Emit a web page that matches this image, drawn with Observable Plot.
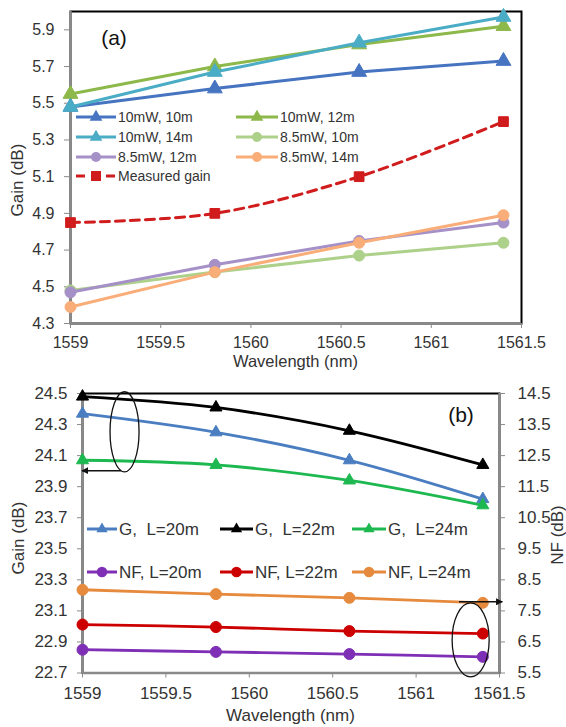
<!DOCTYPE html>
<html><head><meta charset="utf-8">
<script src="https://cdn.jsdelivr.net/npm/d3@7"></script>
<script src="https://cdn.jsdelivr.net/npm/@observablehq/plot@0.6"></script>
<style>
body{margin:0;background:#fff;}
#wrap{position:relative;width:566px;height:727px;background:#fff;font-family:"Liberation Sans",Arial,sans-serif;}
#wrap svg{position:absolute;left:0;overflow:visible;}
</style></head><body><div id="wrap"></div>
<script>
// ---------- shared ----------
const wavelengths = [1559, 1559.8, 1560.6, 1561.4];
const xTicks = [1559, 1559.5, 1560, 1560.5, 1561, 1561.5];

// ---------- panel (a) ----------
const seriesA = ["10mW, 10m", "10mW, 12m", "10mW, 14m", "8.5mW, 10m", "8.5mW, 12m", "8.5mW, 14m", "Measured gain"];
const gain10mW10m = [5.48, 5.58, 5.67, 5.73];
const gain10mW12m = [5.55, 5.70, 5.82, 5.92];
const gain10mW14m = [5.48, 5.67, 5.83, 5.97];
const gain85mW10m = [4.48, 4.58, 4.67, 4.74];
const gain85mW12m = [4.47, 4.62, 4.75, 4.85];
const gain85mW14m = [4.39, 4.58, 4.74, 4.89];
const measuredGain = [4.85, 4.90, 5.10, 5.40];
const valuesA = [gain10mW10m, gain10mW12m, gain10mW14m, gain85mW10m, gain85mW12m, gain85mW14m, measuredGain];
const colorsA = ["#4674C1", "#8DB84A", "#4BACC6", "#ADD18A", "#A590C8", "#F9AD78", "#D01C1C"];
const symbolsA = ["triangle", "triangle", "triangle", "circle", "circle", "circle", "square"];
const yTicksA = [4.3, 4.5, 4.7, 4.9, 5.1, 5.3, 5.5, 5.7, 5.9];
const yDomainA = [4.3, 6.0];

// ---------- panel (b) ----------
const seriesB = ["G,  L=20m", "G,  L=22m", "G,  L=24m", "NF, L=20m", "NF, L=22m", "NF, L=24m"];
const gainL20 = [24.37, 24.25, 24.07, 23.82];
const gainL22 = [24.48, 24.41, 24.26, 24.04];
const gainL24 = [24.07, 24.04, 23.94, 23.78];
const nfL20 = [6.25, 6.18, 6.11, 6.02];
const nfL22 = [7.06, 6.98, 6.85, 6.77];
const nfL24 = [8.18, 8.04, 7.92, 7.76];
const colorsB = ["#4A7EC0", "#000000", "#1DB950", "#7E2FB5", "#CC0000", "#E68A3E"];
const yTicksB = [22.7, 22.9, 23.1, 23.3, 23.5, 23.7, 23.9, 24.1, 24.3, 24.5];
const nfTicks = [5.5, 6.5, 7.5, 8.5, 9.5, 10.5, 11.5, 12.5, 13.5, 14.5];
const gainDomainB = [22.7, 24.5];
const nfDomainB = [5.5, 14.5];
// annotations (data units)
const ellipsesB = [{x: 1559.255, y: 24.25, rx: 0.087, ry: 0.258}, {x: 1561.33, y: 22.91, rx: 0.111, ry: 0.238}];
const arrowsB = [{x1: 1559.234, x2: 1559.0, y: 24.0}, {x1: 1561.26, x2: 1561.52, y: 23.155}];

const FONT = '"Liberation Sans", Arial, sans-serif';
const TXT = "#333";
const AXC = "#8a8a8a";
const nfToGain = v => gainDomainB[0] + (v - nfDomainB[0]) * (gainDomainB[1] - gainDomainB[0]) / (nfDomainB[1] - nfDomainB[0]);

const wrap = document.getElementById("wrap");

// ================= PANEL A =================
const rowsA = [];
seriesA.forEach((s, i) => valuesA[i].forEach((g, j) => rowsA.push({s, w: wavelengths[j], g})));

const marksA = [
  Plot.frame({stroke: "black", strokeWidth: 2}),
  Plot.ruleX([xTicks[0]], {stroke: AXC, strokeWidth: 2.5}),
  Plot.ruleY([yDomainA[0]], {stroke: AXC, strokeWidth: 2.5}),
  Plot.axisX({ticks: xTicks, tickFormat: d => String(d), tickSize: 5, tickPadding: 8, stroke: AXC, fill: TXT, fontSize: 16, label: null}),
  Plot.axisY({ticks: yTicksA, tickFormat: d => d.toFixed(1), tickSize: 6, tickPadding: 10, stroke: AXC, fill: TXT, fontSize: 16, label: null})
];
seriesA.forEach((s, i) => {
  const d = rowsA.filter(r => r.s === s);
  const measured = s === "Measured gain";
  marksA.push(Plot.line(d, {x: "w", y: "g", stroke: colorsA[i], strokeWidth: 3, strokeDasharray: measured ? "9,6" : null, curve: measured ? "catmull-rom" : "linear"}));
  marksA.push(Plot.dot(d, {x: "w", y: "g", fill: colorsA[i], stroke: colorsA[i], symbol: symbolsA[i], r: 5.5, strokeWidth: 1}));
});

const plotA = Plot.plot({
  width: 566, height: 372,
  marginTop: 11, marginBottom: 49, marginLeft: 70, marginRight: 45,
  x: {domain: [xTicks[0], xTicks[xTicks.length - 1]]},
  y: {domain: yDomainA},
  style: {fontFamily: FONT, color: TXT, background: "transparent", overflow: "visible"},
  marks: marksA
});
plotA.style.top = "0px";
wrap.appendChild(plotA);

{
  const svg = d3.select(plotA);
  svg.append("text").attr("x", 295.5).attr("y", 361).attr("dy", "0.35em").attr("text-anchor", "middle")
    .attr("font-size", 16.5).attr("fill", TXT).attr("font-family", FONT).text("Wavelength (nm)");
  svg.append("text").attr("transform", "translate(17,180) rotate(-90)").attr("dy", "0.35em").attr("text-anchor", "middle")
    .attr("font-size", 17).attr("fill", TXT).attr("font-family", FONT).text("Gain (dB)");
  svg.append("text").attr("x", 114).attr("y", 38).attr("dy", "0.35em").attr("text-anchor", "middle")
    .attr("font-size", 21).attr("fill", "#111").attr("font-family", FONT).text("(a)");
  // legend
  const rowsY = [117, 137, 157, 176];
  const cols = [{x1: 76, x2: 116, tx: 118}, {x1: 236, x2: 278, tx: 280}];
  const g = svg.append("g").attr("text-anchor", "start");
  seriesA.forEach((s, i) => {
    const c = cols[i % 2], y = rowsY[Math.floor(i / 2)];
    g.append("line").attr("x1", c.x1).attr("x2", c.x2).attr("y1", y).attr("y2", y)
      .attr("stroke", colorsA[i]).attr("stroke-width", 3).attr("stroke-dasharray", s === "Measured gain" ? "9,6" : null);
    const mx = (c.x1 + c.x2) / 2;
    const symType = symbolsA[i] === "triangle" ? d3.symbolTriangle : symbolsA[i] === "circle" ? d3.symbolCircle : d3.symbolSquare;
    const size = symbolsA[i] === "circle" ? Math.PI * 25 : symbolsA[i] === "square" ? 100 : 70;
    g.append("path").attr("d", d3.symbol(symType, size)()).attr("transform", `translate(${mx},${y})`).attr("fill", colorsA[i]);
    g.append("text").attr("x", c.tx).attr("y", y).attr("dy", "0.35em").attr("font-size", 14).attr("text-anchor", "start")
      .attr("fill", TXT).attr("font-family", FONT).text(s);
  });
}

// ================= PANEL B =================
const gainSeries = [gainL20, gainL22, gainL24];
const nfSeries = [nfL20, nfL22, nfL24];
const rowsB = [];
seriesB.forEach((s, i) => {
  const vals = i < 3 ? gainSeries[i] : nfSeries[i - 3];
  vals.forEach((v, j) => rowsB.push({s, w: wavelengths[j], g: i < 3 ? v : nfToGain(v)}));
});

const marksB = [
  Plot.frame({stroke: "black", strokeWidth: 2}),
  Plot.ruleX([xTicks[0], xTicks[xTicks.length - 1]], {stroke: AXC, strokeWidth: 2.5}),
  Plot.ruleY([gainDomainB[0]], {stroke: AXC, strokeWidth: 2.5}),
  Plot.axisX({ticks: xTicks, tickFormat: d => String(d), tickSize: 5, tickPadding: 9, stroke: AXC, fill: TXT, fontSize: 17, label: null}),
  Plot.axisY({ticks: yTicksB, tickFormat: d => d.toFixed(1), tickSize: 5, tickPadding: 10, stroke: AXC, fill: TXT, fontSize: 17, label: null}),
  Plot.axisY({anchor: "right", ticks: yTicksB, tickFormat: (d, i) => nfTicks[i].toFixed(1), tickSize: 5, tickPadding: 13, stroke: AXC, fill: TXT, fontSize: 17, label: null})
];
seriesB.forEach((s, i) => {
  const d = rowsB.filter(r => r.s === s);
  marksB.push(Plot.line(d, {x: "w", y: "g", stroke: colorsB[i], strokeWidth: 2.8, curve: "catmull-rom"}));
  marksB.push(Plot.dot(d, {x: "w", y: "g", fill: colorsB[i], stroke: colorsB[i], symbol: i < 3 ? "triangle" : "circle", r: i < 3 ? 4.5 : 5.5, strokeWidth: 1}));
});

const plotB = Plot.plot({
  width: 566, height: 355,
  marginTop: 21, marginBottom: 54.5, marginLeft: 82, marginRight: 67,
  x: {domain: [xTicks[0], xTicks[xTicks.length - 1]]},
  y: {domain: gainDomainB},
  style: {fontFamily: FONT, color: TXT, background: "transparent", overflow: "visible"},
  marks: marksB
});
plotB.style.top = "372px";
wrap.appendChild(plotB);

{
  const svg = d3.select(plotB);
  const xs = plotB.scale("x"), ys = plotB.scale("y");
  const X = v => xs.apply(v), Y = v => ys.apply(v);
  svg.append("text").attr("x", 290.5).attr("y", 343).attr("dy", "0.35em").attr("text-anchor", "middle")
    .attr("font-size", 17).attr("fill", TXT).attr("font-family", FONT).text("Wavelength (nm)");
  svg.append("text").attr("transform", "translate(18,166) rotate(-90)").attr("dy", "0.35em").attr("text-anchor", "middle")
    .attr("font-size", 17).attr("fill", TXT).attr("font-family", FONT).text("Gain (dB)");
  svg.append("text").attr("transform", "translate(557,163) rotate(-90)").attr("dy", "0.35em").attr("text-anchor", "middle")
    .attr("font-size", 17).attr("fill", TXT).attr("font-family", FONT).text("NF (dB)");
  svg.append("text").attr("x", 461).attr("y", 43).attr("dy", "0.35em").attr("text-anchor", "middle")
    .attr("font-size", 21).attr("fill", "#111").attr("font-family", FONT).text("(b)");
  // annotations
  ellipsesB.forEach(e => {
    svg.append("ellipse").attr("cx", X(e.x)).attr("cy", Y(e.y))
      .attr("rx", Math.abs(X(e.x + e.rx) - X(e.x))).attr("ry", Math.abs(Y(e.y + e.ry) - Y(e.y)))
      .attr("fill", "none").attr("stroke", "#111").attr("stroke-width", 1.3);
  });
  const defs = svg.append("defs");
  defs.append("marker").attr("id", "ah").attr("viewBox", "0 0 10 10").attr("refX", 9).attr("refY", 5)
    .attr("markerWidth", 7).attr("markerHeight", 7).attr("markerUnits", "userSpaceOnUse").attr("orient", "auto")
    .append("path").attr("d", "M0,0 L10,5 L0,10 Z").attr("fill", "#111");
  arrowsB.forEach(a => {
    svg.append("line").attr("x1", X(a.x1)).attr("x2", X(a.x2)).attr("y1", Y(a.y)).attr("y2", Y(a.y))
      .attr("stroke", "#111").attr("stroke-width", 1.5).attr("marker-end", "url(#ah)");
  });
  // legend
  const rowsY = [157, 200];
  const cols = [{x1: 87, x2: 117, tx: 119}, {x1: 220, x2: 253, tx: 255}, {x1: 352, x2: 386, tx: 388}];
  const g = svg.append("g").attr("text-anchor", "start");
  seriesB.forEach((s, i) => {
    const c = cols[i % 3], y = rowsY[Math.floor(i / 3)];
    g.append("line").attr("x1", c.x1).attr("x2", c.x2).attr("y1", y).attr("y2", y)
      .attr("stroke", colorsB[i]).attr("stroke-width", 3);
    const mx = (c.x1 + c.x2) / 2;
    const isTri = i < 3;
    g.append("path").attr("d", d3.symbol(isTri ? d3.symbolTriangle : d3.symbolCircle, isTri ? 55 : Math.PI * 28)())
      .attr("transform", `translate(${mx},${y})`).attr("fill", colorsB[i]);
    g.append("text").attr("x", c.tx).attr("y", y).attr("dy", "0.35em").attr("font-size", 17).attr("text-anchor", "start")
      .attr("fill", TXT).attr("font-family", FONT).style("white-space", "pre").text(s);
  });
}
</script></body></html>
